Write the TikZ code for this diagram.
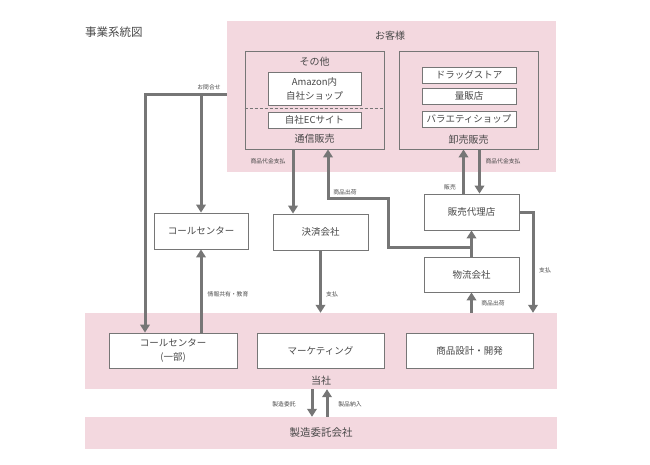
\documentclass[tikz,border=0pt]{standalone}
\usepackage{fontspec}
\setmainfont{Noto Sans CJK JP}
\usetikzlibrary{arrows.meta}
\definecolor{areaPink}{RGB}{243,216,223}
\definecolor{lineGray}{RGB}{118,118,118}
\definecolor{textGray}{RGB}{72,72,72}
\tikzstyle{pinkArea}=[shape = rectangle, fill = areaPink, inner sep = 0pt]
\tikzstyle{whiteBox}=[shape = rectangle, draw = lineGray, fill = white, line width = 0.8pt, inner sep = 0pt, align = center, font = \fontsize{9.5}{14}\selectfont]
\tikzstyle{groupBox}=[shape = rectangle, draw = lineGray, line width = 0.8pt, inner sep = 0pt]

\begin{document}
\begin{tikzpicture}[x = 1pt, y = -1pt, text = textGray]
\tikzstyle{flowArrow} = [draw = lineGray, line width = 3pt, -{Triangle[width = 9.5pt, length = 8pt]}]
\tikzstyle{smallLabel} = [font = \fontsize{5.8}{6}\selectfont, inner sep = 0pt]
\tikzstyle{areaLabel} = [font = \fontsize{10}{12}\selectfont, inner sep = 0pt]
\useasboundingbox (0,0) rectangle (650,464);
\node[anchor = west, inner sep = 0pt, font = \fontsize{11.5}{13}\selectfont] (title) at (85,32) {事業系統図};
\node[pinkArea, minimum width = 329pt, minimum height = 151pt] (kyaku) at (391.5,96.5) {};
\node[pinkArea, minimum width = 472pt, minimum height = 76pt] (tosha) at (321,351) {};
\node[pinkArea, minimum width = 472pt, minimum height = 32pt, font = \fontsize{10.5}{12}\selectfont] (seizo) at (321,433) {製造委託会社};
\node[areaLabel] (kyakuLabel) at (390,36) {お客様};
\node[areaLabel] (toshaLabel) at (321,381) {当社};
\node[groupBox, minimum width = 139pt, minimum height = 98pt] (tsushin) at (314.5,100) {};
\node[groupBox, minimum width = 139pt, minimum height = 98pt] (oroshi) at (468.5,100) {};
\node[areaLabel] (sonota) at (314.5,62) {その他};
\node[areaLabel] (tsushinLabel) at (314.5,139) {通信販売};
\node[areaLabel] (oroshiLabel) at (468.5,140) {卸売販売};
\node[whiteBox, minimum width = 93pt, minimum height = 33pt] (amazon) at (314.5,88.5) {Amazon内\\自社ショップ};
\node[whiteBox, minimum width = 93pt, minimum height = 16pt] (ecSite) at (314.5,120) {自社ECサイト};
\node[whiteBox, minimum width = 94pt, minimum height = 16pt] (drug) at (469,75) {ドラッグストア};
\node[whiteBox, minimum width = 94pt, minimum height = 16pt] (ryohan) at (469,96) {量販店};
\node[whiteBox, minimum width = 94pt, minimum height = 16pt] (variety) at (469,119) {バラエティショップ};
\node[whiteBox, minimum width = 94pt, minimum height = 36pt] (callA) at (201,231) {コールセンター};
\node[whiteBox, minimum width = 95pt, minimum height = 36pt] (kessai) at (320.5,232) {決済会社};
\node[whiteBox, minimum width = 95pt, minimum height = 36pt] (dairi) at (471.5,212) {販売代理店};
\node[whiteBox, minimum width = 95pt, minimum height = 35pt] (butsuryu) at (471.5,274.5) {物流会社};
\node[whiteBox, minimum width = 128pt, minimum height = 35pt] (callB) at (173,350.5) {コールセンター\\(一部)};
\node[whiteBox, minimum width = 127pt, minimum height = 35pt] (marketing) at (320.5,350.5) {マーケティング};
\node[whiteBox, minimum width = 127pt, minimum height = 35pt] (kaihatsu) at (469.5,350.5) {商品設計・開発};
\coordinate (toiL) at (145,94);
\coordinate (toiR) at (201,94);
\coordinate (shukkaA) at (388,247);
\coordinate (shukkaB) at (328,198);
\coordinate (payR) at (533,212);
\draw[lineGray, line width = 0.8pt, dash pattern = on 3pt off 2pt] (tsushin.west |- 0,108) -- (tsushin.east |- 0,108);
\draw[flowArrow] (kyaku.west |- toiL) -- (toiL) -- (toiL |- callB.north);
\draw[flowArrow] (toiR) -- (callA.north);
\draw[flowArrow] (callB.north -| callA) -- (callA.south);
\draw[flowArrow] ([xshift = -21.5pt]tsushin.south) -- ([xshift = -21.5pt]tsushin.south |- kessai.north);
\draw[flowArrow] (kessai.south) -- (kessai.south |- tosha.north);
\draw[flowArrow] (butsuryu.north) -- (dairi.south);
\draw[flowArrow] (dairi.south |- shukkaA) -- (shukkaA) |- (shukkaB) -- (shukkaB |- tsushin.south);
\draw[flowArrow] ([xshift = -8pt]dairi.north) -- ([xshift = -8pt]dairi.north |- oroshi.south);
\draw[flowArrow] ([xshift = 8pt]dairi.north |- oroshi.south) -- ([xshift = 8pt]dairi.north);
\draw[flowArrow] (dairi.east) -- (payR) -- (payR |- tosha.north);
\draw[flowArrow] (butsuryu.south |- tosha.north) -- (butsuryu.south);
\draw[flowArrow] ([xshift = -9pt]tosha.south) -- ([xshift = -9pt]tosha.south |- seizo.north);
\draw[flowArrow] ([xshift = 6pt]tosha.south |- seizo.north) -- ([xshift = 6pt]tosha.south);
\node[smallLabel] (toiLabel) at (209,87) {お問合せ};
\node[smallLabel] (daikinL) at (268,161) {商品代金支払};
\node[smallLabel] (daikinR) at (503,161) {商品代金支払};
\node[smallLabel] (shukkaTop) at (345,192) {商品出荷};
\node[smallLabel] (hanbai) at (450,187) {販売};
\node[smallLabel] (shiharaiR) at (545,270) {支払};
\node[smallLabel] (shiharaiC) at (332,294) {支払};
\node[smallLabel] (kyoyu) at (228,294) {情報共有・教育};
\node[smallLabel] (shukkaBottom) at (493,303) {商品出荷};
\node[smallLabel] (itaku) at (284,404) {製造委託};
\node[smallLabel] (nonyu) at (350,404) {製品納入};
\end{tikzpicture}
\end{document}
